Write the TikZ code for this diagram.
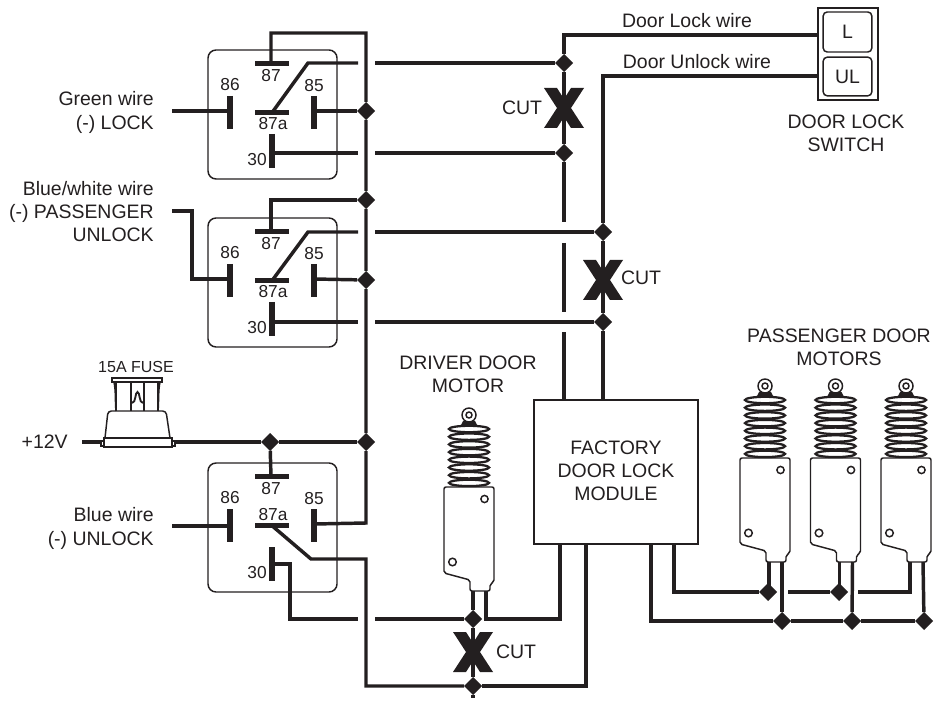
\documentclass[tikz,border=0pt]{standalone}
\usepackage{fontspec}
\setmainfont{Liberation Sans}
\usetikzlibrary{shapes.geometric}
\definecolor{ink}{HTML}{231F20}
\tikzset{
  wire/.style={draw=ink, line width=2.6pt},
  bar/.style={draw=ink, line width=3.9pt},
  outline/.style={draw=ink, line width=1.1pt},
  junction/.style={diamond, fill=ink, inner sep=0pt, outer sep=0pt, minimum size=13.5pt},
  label/.style={text=ink, font=\fontsize{14.6}{17.4}\selectfont, inner sep=0pt, align=center},
  leftlabel/.style={label, align=right, anchor=east},
  pinlabel/.style={text=ink, font=\fontsize{13}{15}\selectfont, inner sep=0pt},
  pics/relay/.style={code={
    \draw[outline, rounded corners=6pt] (0,0) rectangle (129,129);
    \draw[bar] (47,13.5) -- (81,13.5);
    \draw[bar] (22,46) -- (22,79);
    \draw[bar] (106,46) -- (106,79);
    \draw[bar] (47,62.7) -- (81,62.7);
    \draw[bar] (64,84) -- (64,118);
    \coordinate (-c87) at (63,13.5);
    \coordinate (-c86) at (22,61);
    \coordinate (-c85) at (106,61);
    \coordinate (-c87a) at (64,62.7);
    \coordinate (-c30) at (64,102);
    \node[pinlabel] (-t87) at (63,25.5) {87};
    \node[pinlabel] (-t86) at (22,35) {86};
    \node[pinlabel] (-t85) at (106,36) {85};
    \node[pinlabel] (-t87a) at (65,#1) {87a};
    \node[pinlabel] (-t30) at (49,110) {30};
  }},
  pics/motor/.style={code={
    \draw[outline] (25,-72) circle [radius=7];
    \draw[outline] (25,-72) circle [radius=3];
    \fill[ink] (17,-62) -- (19,-66) -- (31,-66) -- (33,-62) -- cycle;
    \foreach \i in {0,...,7} \draw[draw=ink, line width=1.7pt] (25,-58+7.7*\i) ellipse [x radius=20, y radius=3.2];
    \draw[outline, rounded corners=1.5pt] (0,0) -- (50,0) -- (50,95) -- (46,97) -- (46,104) -- (26,104) -- (26,93) -- (0,86) -- cycle;
    \draw[outline] (40.5,12) circle [radius=3.6];
    \draw[outline] (8.5,75) circle [radius=3.8];
    \coordinate (-t1) at (29,104);
    \coordinate (-t2) at (42,104);
  }},
  pics/cutmark/.style={code={
    \fill[ink] (-20,-20) -- (-7,-20) -- (0,-9) -- (7,-20) -- (20,-20) -- (7,0) -- (20,20) -- (7,20) -- (0,9) -- (-7,20) -- (-20,20) -- (-7,0) -- cycle;
  }},
}
\begin{document}
\begin{tikzpicture}[x=.75pt, y=-.75pt]
\useasboundingbox (0,0) rectangle (935,709);
% relays
\pic (rA) at (208,50) {relay=74};
\pic (rB) at (208,218) {relay=74};
\pic (rC) at (208,463) {relay=52};
% motors
\pic (mD) at (444,487) {motor};
\pic (mA) at (740,458) {motor};
\pic (mB) at (810.5,458) {motor};
\pic (mC) at (881,458) {motor};
% boxes
\node[outline, minimum width=123pt, minimum height=108pt, inner sep=0pt] (module) at (616,472) {};
\node[outline, minimum width=45pt, minimum height=69pt, inner sep=0pt] (switch) at (848,54) {};
\node[outline, rounded corners=3pt, minimum width=36.5pt, minimum height=30pt, inner sep=0pt, label] (btnL) at (847.5,32) {L};
\node[outline, rounded corners=3pt, minimum width=36.5pt, minimum height=29pt, inner sep=0pt, label] (btnUL) at (847.5,76.5) {UL};
% junctions
\foreach \name/\x/\y in {jA85/366/111, jB87/366/200, jB85/366/280, jP/366/442, jF/270/442,
    jLa/564/63, jLb/564/153, jUa/603/232, jUb/603/322, jDa/473/619, jDb/473/686,
    jM1/768/592, jM2/839/592, jN1/782/621, jN2/852/621, jN3/924/621}
  \node[junction] (\name) at (\x,\y) {};
% free ends and gaps
\foreach \name/\y in {gA/63, gB/153, gC/232, gD/322, gE/619}
  {\coordinate (\name l) at (358,\y); \coordinate (\name r) at (375,\y);}
\coordinate (railtop) at (366,33);
\coordinate (railbot) at (366,523);
\coordinate (inA) at (172,111);
\coordinate (inB) at (172,211);
\coordinate (inBc) at (192,211);
\coordinate (inC) at (172,526);
\coordinate (armA) at (308,63);
\coordinate (armB) at (308,232);
\coordinate (armC) at (311,559);
\coordinate (armCb) at (366,559);
\coordinate (lowC) at (290,564);
\coordinate (lowCb) at (290,619);
\coordinate (vIn) at (82,442);
\coordinate (fuseL) at (101,442);
\coordinate (fuseR) at (175,442);
\coordinate (lockEnd) at (818,35);
\coordinate (unlockEnd) at (818,76);
\coordinate (lockCorner) at (564,35);
\coordinate (unlockCorner) at (603,76);
\coordinate (mod1) at (651,544);
\coordinate (mod2) at (674,544);
\coordinate (mod3) at (560,544);
\coordinate (mod4) at (586,544);
\coordinate (modL) at (564,400);
\coordinate (modU) at (603,400);
\coordinate (tail) at (473,698);
\coordinate (gapM1) at (788,592);
\coordinate (gapM2) at (858,592);
% relay wires
\draw[wire] (rA-c87) |- (railtop) -- (jA85) -- (jB87) -- (jB85) -- (jP) -- (railbot) -- (rC-c85);
\draw[wire] (inA) -- (rA-c86);
\draw[wire] (rA-c85) -- (jA85);
\draw[wire] (rA-c87a) -- (armA) -- (gAl);
\draw[wire] (gAr) -- (jLa);
\draw[wire] (rA-c30 |- jLb) -- (gBl);
\draw[wire] (gBr) -- (jLb);
\draw[wire] (rB-c87) |- (jB87);
\draw[wire] (inB) -- (inBc) |- (rB-c86);
\draw[wire] (rB-c85) -- (jB85);
\draw[wire] (rB-c87a) -- (armB) -- (gCl);
\draw[wire] (gCr) -- (jUa);
\draw[wire] (rB-c30 |- jUb) -- (gDl);
\draw[wire] (gDr) -- (jUb);
\draw[wire] (rC-c87) -- (jF);
\draw[wire] (inC) -- (rC-c86 |- inC);
\draw[wire] (rC-c87a) -- (armC) -- (armCb) |- (jDb);
\draw[wire] (rC-c30 |- lowC) -- (lowC) -- (lowCb) -- (gEl);
\draw[wire] (gEr) -- (jDa);
\draw[wire] (vIn) -- (fuseL);
\draw[wire] (fuseR) -- (jF) -- (jP);
% door lock wires
\draw[wire] (lockEnd) -- (lockCorner) -- (jLa) -- (jLb) -- (564,222);
\draw[wire] (564,243) -- (564,312);
\draw[wire] (564,332) -- (modL);
\draw[wire] (unlockEnd) -- (unlockCorner) -- (jUa) -- (jUb) -- (modU);
% motor wires
\draw[wire] (mD-t1) -- (jDa) -- (jDb) -- (tail);
\draw[wire] (mD-t2) |- (mod3 |- jDa) -- (mod3);
\draw[wire] (mod4) |- (jDb);
\draw[wire] (mod2) |- (jM1);
\draw[wire] (mod1) |- (jN1) -- (jN2) -- (jN3);
\draw[wire] (gapM1) -- (jM2);
\draw[wire] (gapM2) -| (mC-t1);
\draw[wire] (mA-t1) -- (mA-t1 |- jM1);
\draw[wire] (mA-t2) -- (jN1);
\draw[wire] (mB-t1) -- (mB-t1 |- jM2);
\draw[wire] (mB-t2) -- (jN2);
\draw[wire] (mC-t2) -- (jN3);
% fuse
\draw[outline, fill=white] (104,438) rectangle (172,447);
\draw[outline, fill=white] (101,441) rectangle (104,446);
\draw[outline, fill=white] (172,441) rectangle (175,446);
\draw[outline, rounded corners=2.5pt] (105,438) -- (108,411) -- (166,411) -- (170,438);
\draw[outline] (112,378) rectangle (162,382);
\draw[outline] (114,382) .. controls (116,392) and (115,402) .. (116,411);
\draw[outline] (160,382) .. controls (158,392) and (159,402) .. (158,411);
\draw[outline, line width=1.4pt] (116,411) -- (116,382) (158,411) -- (158,382);
\draw[outline, line width=1.4pt] (131,382) -- (131,411) (144,382) -- (144,411);
\draw[outline, line width=1.4pt] (132,403) .. controls (136,403) and (135,392) .. (137.5,392) .. controls (140,392) and (139,403) .. (143,403);
% cuts
\pic (xA) at (564,108) {cutmark};
\pic (xB) at (603,280) {cutmark};
\pic (xC) at (473,652) {cutmark};
% texts
\node[leftlabel] (tGreen) at (154,112.5) {Green wire\\(-) LOCK};
\node[leftlabel] (tBlueW) at (154,211.5) {Blue/white wire\\(-) PASSENGER\\UNLOCK};
\node[leftlabel] (tBlue) at (154,528.5) {Blue wire\\(-) UNLOCK};
\node[leftlabel] (tVolt) at (68,442) {+12V};
\node[text=ink, font=\fontsize{12}{14}\selectfont, inner sep=0pt] (tFuse) at (136,367) {15A FUSE};
\node[label] (tModule) at (616,470.5) {FACTORY\\DOOR LOCK\\MODULE};
\node[label] (tLock) at (687,21) {Door Lock wire};
\node[label] (tUnlock) at (697,62) {Door Unlock wire};
\node[label] (tSwitch) at (846,133) {DOOR LOCK\\SWITCH};
\node[label] (tDriver) at (468,374) {DRIVER DOOR\\MOTOR};
\node[label] (tPass) at (839,347) {PASSENGER DOOR\\MOTORS};
\node[label] (tCutA) at (522,108) {CUT};
\node[label] (tCutB) at (641,278) {CUT};
\node[label] (tCutC) at (516,652) {CUT};
\end{tikzpicture}
\end{document}
